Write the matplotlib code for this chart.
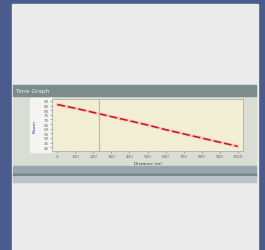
import numpy as np
import matplotlib
matplotlib.use('Agg')
import matplotlib.pyplot as plt
from matplotlib.patches import Rectangle

# data
dist = [0, 100, 200, 300, 400, 500, 600, 700, 800, 900, 1000]
power = [86, 82, 77.5, 73, 68.5, 64, 59, 54.5, 50, 45.5, 41]
x_ticks = [0, 100, 200, 300, 400, 500, 600, 700, 800, 900, 1000]
y_ticks = [40, 45, 50, 55, 60, 65, 70, 75, 80, 85, 90]
marker_x = 230

W, H = 265, 251
fig = plt.figure(figsize=(W/100, H/100), dpi=100)

def box(x0, y0, x1, y1, color):
    # pixel box, top-left origin
    fig.patches.append(Rectangle((x0/W, 1-y1/H), (x1-x0)/W, (y1-y0)/H,
                                 transform=fig.transFigure, color=color, zorder=-5))

box(0, 0, W, H, '#4a5b8d')
box(12, 5, 258, H, '#ebebeb')
box(13, 86, 256, 183, '#d9ddd3')
box(13, 86, 256, 97, '#7c8c8b')
box(13, 167, 256, 175, '#97a6ad')
box(13, 175, 256, 177, '#6d7d86')
box(13, 177, 256, 183, '#b9c5c7')
box(30, 99, 52, 153, '#f4f4f0')
fig.text(15/W, 1-91.5/H, 'Time Graph', fontsize=4.2, color='#eef2f0', va='center', ha='left')

ax = fig.add_axes([52/W, 1-152/H, 191/W, 52/H])
ax.set_zorder(5)
ax.set_facecolor('#f2edd5')
ax.plot(dist, power, color='#f4b0a8', lw=2.2, alpha=0.6)
ax.plot(dist, power, color='#c8141c', lw=1.1, dashes=(5, 2))
ax.axvline(marker_x, color='#b8bc98', lw=0.8)
ax.set_xlim(-30, 1030)
ax.set_ylim(36, 92)
ax.set_xticks(x_ticks)
ax.set_yticks(y_ticks)
ax.tick_params(labelsize=3, colors='#6a7070', length=1.5, width=0.4, pad=1)
for s in ax.spines.values():
    s.set_color('#a0a8a0')
    s.set_linewidth(0.5)
ax.set_xlabel('Distance (m)', fontsize=3.2, color='#303840', labelpad=1.5)
ax.set_ylabel('Power', fontsize=3.2, color='#2838a0', labelpad=5)

fig.savefig('out.png', dpi=100)
